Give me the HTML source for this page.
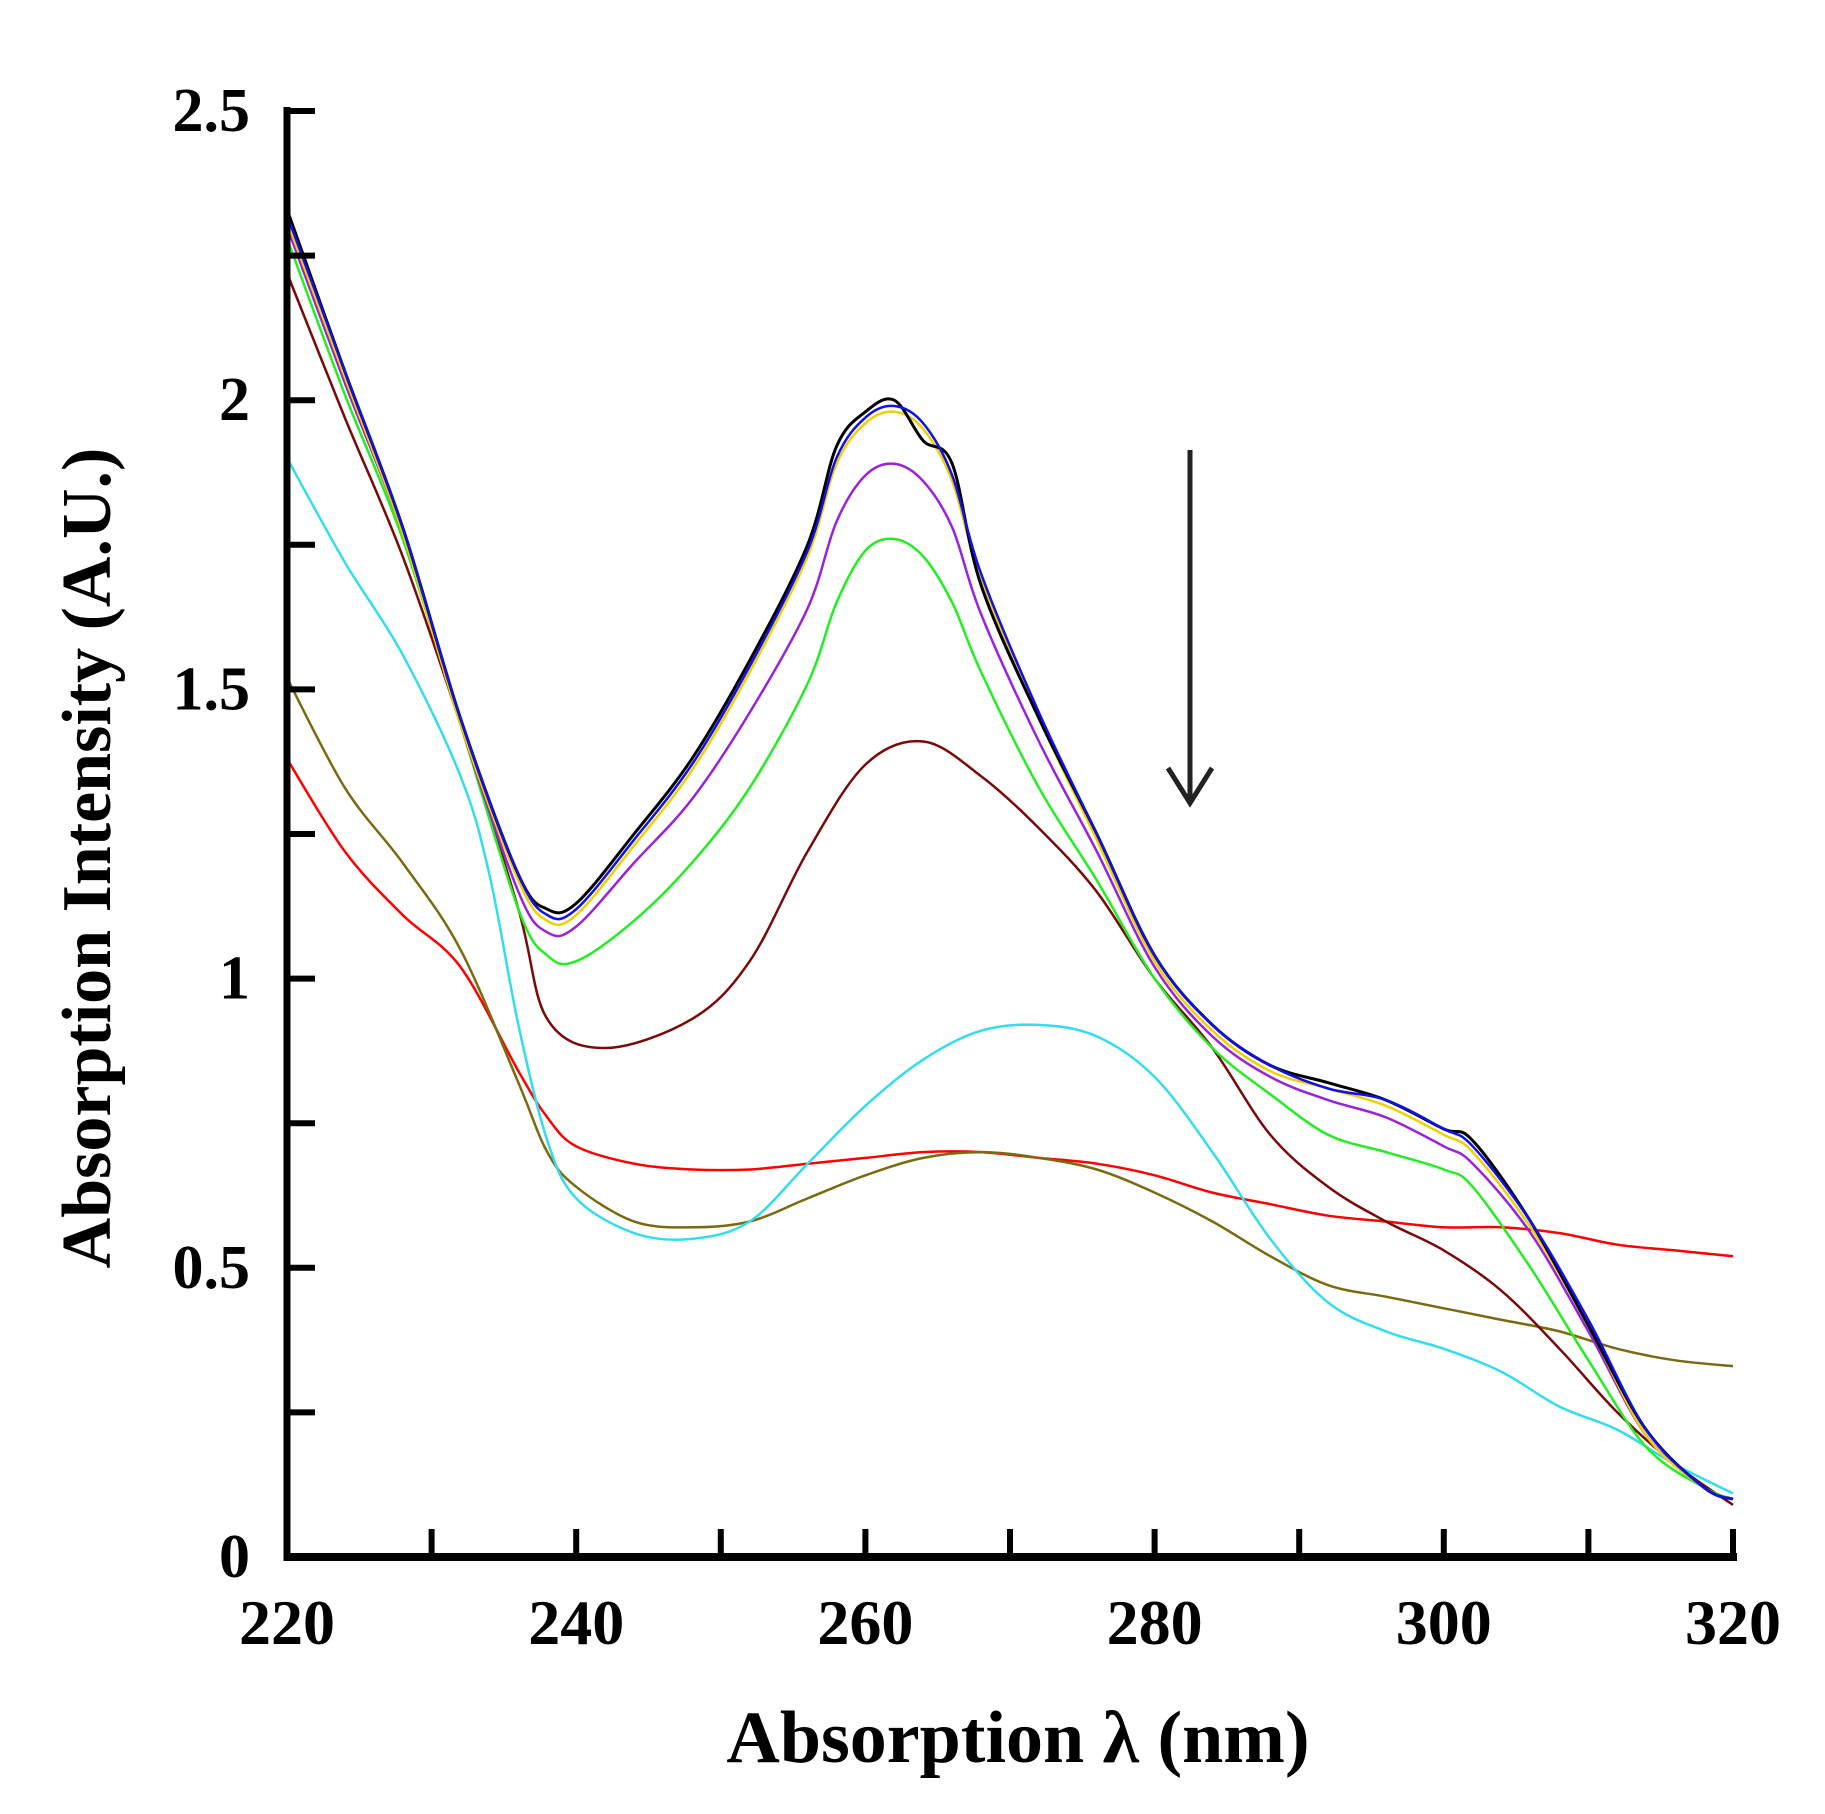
<!DOCTYPE html>
<html><head><meta charset="utf-8"><style>
html,body{margin:0;padding:0;background:#fff}
svg text{font-family:"Liberation Serif",serif;font-weight:bold;fill:#000}
</style></head><body>
<svg id="chart" width="1825" height="1809" viewBox="0 0 1825 1809" xmlns="http://www.w3.org/2000/svg">
<g id="series"></g>
<g id="axes"></g>
<text x="1018" y="1762" font-size="74" text-anchor="middle">Absorption λ (nm)</text>
<text transform="translate(110,858) rotate(-90)" font-size="70" text-anchor="middle">Absorption Intensity (A.U.)</text>
<g stroke="#222" stroke-width="5" fill="none">
<line x1="1190" y1="450" x2="1190" y2="803"/>
<polyline points="1168,768 1190,803 1212,768"/>
</g>
</svg>
<script>
const xTicks=[220,240,260,280,300,320];
const xMinor=[230,250,270,290,310];
const yTicks=[0,0.5,1,1.5,2,2.5];
const yTickLabels=["0","0.5","1","1.5","2","2.5"];
const yMinor=[0.25,0.75,1.25,1.75,2.25];
const wlBlack=[220,224,228,232,236,238,240,244,248,252,256,258,260,262,264,266,268,272,276,280,284,288,292,296,300,302,306,310,314,318,320];
const absBlack=[2.33,2.05,1.78,1.45,1.18,1.12,1.13,1.25,1.38,1.55,1.75,1.92,1.98,2.0,1.93,1.89,1.68,1.45,1.25,1.04,0.92,0.85,0.82,0.79,0.74,0.72,0.58,0.40,0.22,0.12,0.10];
const wlMain=[220,224,228,232,236,238,240,244,248,252,256,258,260,262,264,266,268,272,276,280,284,288,292,296,300,302,306,310,314,318,320];
const absBlue=[2.32,2.05,1.78,1.45,1.18,1.11,1.12,1.24,1.37,1.54,1.74,1.90,1.97,1.99,1.96,1.87,1.70,1.46,1.25,1.04,0.92,0.85,0.81,0.79,0.74,0.71,0.58,0.41,0.22,0.12,0.10];
const absYellow=[2.31,2.04,1.77,1.44,1.17,1.10,1.11,1.23,1.36,1.53,1.73,1.89,1.96,1.98,1.95,1.86,1.69,1.45,1.24,1.03,0.91,0.84,0.81,0.78,0.73,0.70,0.57,0.40,0.21,0.12,0.10];
const absPurple=[2.30,2.03,1.77,1.44,1.15,1.08,1.09,1.20,1.31,1.46,1.64,1.79,1.87,1.89,1.86,1.78,1.63,1.41,1.22,1.02,0.90,0.83,0.79,0.76,0.71,0.68,0.56,0.39,0.21,0.12,0.10];
const absGreen=[2.28,2.01,1.76,1.44,1.12,1.04,1.03,1.10,1.20,1.33,1.51,1.65,1.74,1.76,1.73,1.65,1.53,1.33,1.17,1.00,0.88,0.80,0.73,0.70,0.67,0.64,0.50,0.34,0.19,0.12,0.10];
const wlMaroon=[220,224,228,232,236,238,242,248,252,256,260,264,268,272,276,280,284,288,292,296,300,304,308,312,316,320];
const absMaroon=[2.22,1.97,1.73,1.44,1.12,0.93,0.88,0.93,1.03,1.22,1.37,1.41,1.35,1.26,1.15,1.00,0.88,0.73,0.64,0.58,0.53,0.46,0.36,0.25,0.16,0.09];
const wlCyan=[220,224,228,232,234,236,238,240,244,248,252,256,260,264,268,272,276,280,284,288,292,296,300,304,308,312,316,320];
const absCyan=[1.90,1.72,1.56,1.35,1.18,0.92,0.72,0.62,0.56,0.55,0.58,0.68,0.78,0.86,0.91,0.92,0.90,0.83,0.70,0.55,0.44,0.39,0.36,0.32,0.26,0.22,0.16,0.11];
const wlOther=[220,224,228,232,236,238,240,244,248,252,256,260,264,268,272,276,280,284,288,292,296,300,304,308,312,316,320];
const absOlive=[1.52,1.33,1.20,1.05,0.82,0.70,0.64,0.58,0.57,0.58,0.62,0.66,0.69,0.70,0.69,0.67,0.63,0.58,0.52,0.47,0.45,0.43,0.41,0.39,0.36,0.34,0.33];
const absRed=[1.38,1.22,1.11,1.02,0.84,0.76,0.71,0.68,0.67,0.67,0.68,0.69,0.70,0.70,0.69,0.68,0.66,0.63,0.61,0.59,0.58,0.57,0.57,0.56,0.54,0.53,0.52];

const X0=287,X1=1733,Y0=1557,Y1=111;
function sx(v){return X0+(v-220)/(320-220)*(X1-X0);}
function sy(v){return Y0-(v-0)/(2.5-0)*(Y0-Y1);}
const NS="http://www.w3.org/2000/svg";
function mk(tag,attrs,parent){const e=document.createElementNS(NS,tag);for(const k in attrs)e.setAttribute(k,attrs[k]);parent.appendChild(e);return e;}
const axes=document.getElementById('axes');
const ser=document.getElementById('series');
function smoothPath(xs,ys){
  const p=xs.map((x,i)=>[sx(x),sy(ys[i])]);
  let d="M"+p[0][0].toFixed(1)+","+p[0][1].toFixed(1);
  for(let i=0;i<p.length-1;i++){
    const a=p[Math.max(0,i-1)],b=p[i],c=p[i+1],e=p[Math.min(p.length-1,i+2)];
    const c1=[b[0]+(c[0]-a[0])/6,b[1]+(c[1]-a[1])/6];
    const c2=[c[0]-(e[0]-b[0])/6,c[1]-(e[1]-b[1])/6];
    d+=" C"+c1[0].toFixed(1)+","+c1[1].toFixed(1)+" "+c2[0].toFixed(1)+","+c2[1].toFixed(1)+" "+c[0].toFixed(1)+","+c[1].toFixed(1);
  }
  return d;
}
const seriesList=[
 ["series-red",wlOther,absRed,"#ff0000",2.5],
 ["series-olive",wlOther,absOlive,"#7a6a10",2.5],
 ["series-cyan",wlCyan,absCyan,"#33ddee",2.5],
 ["series-maroon",wlMaroon,absMaroon,"#7a0a0a",2.5],
 ["series-green",wlMain,absGreen,"#22ee22",2.5],
 ["series-purple",wlMain,absPurple,"#9922dd",2.5],
 ["series-yellow",wlMain,absYellow,"#f0d000",2.5],
 ["series-black",wlBlack,absBlack,"#000000",3],
 ["series-blue",wlMain,absBlue,"#1010ee",2.5]
];
seriesList.forEach(s=>{
  const el=mk('path',{d:smoothPath(s[1],s[2]),fill:'none',stroke:s[3],'stroke-width':s[4],'stroke-linejoin':'round'},ser);
  
  
});
const yAxis=mk('line',{x1:X0,y1:Y1-4,x2:X0,y2:Y0+4,stroke:'#000','stroke-width':7},axes);


const xAxis=mk('line',{x1:X0-3,y1:Y0,x2:X1+4,y2:Y0,stroke:'#000','stroke-width':8},axes);


xTicks.concat(xMinor).forEach(v=>{
  const t=mk('line',{x1:sx(v),y1:Y0,x2:sx(v),y2:Y0-28,stroke:'#000','stroke-width':6},axes);
  
  
});
xTicks.forEach(v=>{
  const t=mk('text',{x:sx(v),y:1644,'font-size':64,'text-anchor':'middle'},axes);
  t.textContent=String(v);
  
  
});
yTicks.concat(yMinor).forEach(v=>{
  const t=mk('line',{x1:X0,y1:sy(v),x2:X0+28,y2:sy(v),stroke:'#000','stroke-width':6},axes);
  
  
});
yTicks.forEach((v,i)=>{
  const t=mk('text',{x:250,y:sy(v)+20,'font-size':62,'text-anchor':'end'},axes);
  t.textContent=yTickLabels[i];
  
  
});
</script>
</body></html>
